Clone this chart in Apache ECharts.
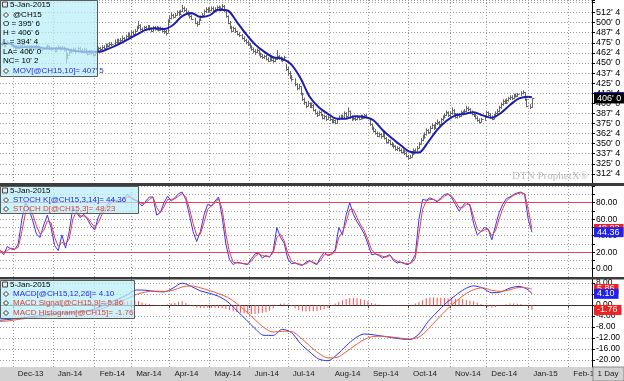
<!DOCTYPE html>
<html><head><meta charset="utf-8">
<script src="https://cdn.jsdelivr.net/npm/echarts@6/dist/echarts.min.js"></script>
<style>html,body{margin:0;padding:0;background:#fff}#c{width:624px;height:381px}</style>
</head><body><div id="c"></div>
<script>
// ---------- DATA ----------
// daily bars, one value per weekday starting Thu 21-Nov-2013 (null = exchange holiday)
const close = [
475,473,471,474,476, null,472,470,468,471, 469,472,474,471,468, 466,468,470,467,469,
471,468,466,467,null, 469,471,468,467,null, 465,468,470,467,469, 466,456,460,463,466,
467,465,null,468,466, 464,467,463,461,464, 462,460,463,466,468, 467,470,469,472,471,
474,473,null,476,478, 476,479,481,478,483, 485,483,488,486,490, 494,497,492,491,494,
492,495,493,490,494, 492,494,491,493,490, 489,487,501,506,509, 507,510,513,511,514,
518,516,513,511,508, 505,null,500,498,503, 507,510,514,517,515, 516,518,515,517,519,
516,518,521,515,508, 500,494,490,493,489, 486,485,null,481,478, 476,474,470,467,465,
463,466,461,459,457, 458,455,453,456,454, 452,455,459,456,455, 454,457,443,437,433,
430,null,424,419,421, 412,405,401,397,400, 396,398,392,388,386, 389,386,382,384,381,
383,380,377,379,376, 380,382,384,382,388, 384,390,383,380,382, 380,383,381,384,382,
385,383,null,374,370, 366,363,360,362,359, 364,357,352,354,350, 348,347,343,345,342,
340,341,338,335,332, 334,337,342,340,345, 350,355,358,362,367, 364,370,373,369,375,
377,374,380,383,386, 389,385,388,392,386, 383,386,384,389,387, 391,394,393,389,387,
385,382,379,377,380, null,383,389,386,383, 381,385,388,391,395, 399,403,401,404,406,
408,406,410,409,411, null,413,414,405,397, null,395.75,406
];
const high = [
477,476,474,476,478, null,475,473,471,472, 472,473,476,475,471, 469,470,472,471,471,
473,472,469,469,null, 471,473,472,470,null, 469,470,472,471,471, 470,467,462,465,468,
469,469,null,470,470, 468,469,468,465,466, 466,464,465,468,470, 470,472,472,474,474,
476,476,null,479,480, 480,481,484,482,485, 488,487,490,490,492, 496,502,498,494,496,
496,497,497,494,496, 496,496,495,495,494, 492,491,504,509,513, 511,512,515,515,516,
522,520,518,515,512, 510,null,506,502,505, 509,512,516,519,519, 519,520,520,519,521,
521,520,523,522,516, 509,502,496,495,494, 490,488,null,486,483, 480,478,475,472,469,
467,468,467,463,461, 460,460,457,458,458, 456,457,466,460,458, 457,459,449,445,440,
435,null,431,425,424, 421,413,407,402,403, 401,401,399,393,390, 391,390,387,386,385,
385,384,381,381,380, 382,385,386,386,390, 389,395,391,385,384, 384,385,384,386,386,
387,387,null,381,375, 371,368,365,364,363, 366,365,358,356,355, 352,350,348,347,346,
344,343,342,340,336, 336,339,344,344,347, 352,357,361,364,369, 368,372,375,374,377,
380,378,382,385,388, 391,390,390,395,393, 388,388,388,391,391, 393,397,396,394,391,
389,387,384,381,382, null,385,391,390,388, 385,387,390,393,397, 401,405,405,406,408,
410,410,412,412,413, null,415,416,414,406, null,399,406.75
];
const low = [
472,471,469,470,473, null,470,468,466,467, 467,468,471,469,466, 464,465,467,465,466,
468,466,464,465,null, 466,468,466,465,null, 463,464,467,465,466, 464,450,455,459,462,
464,462,null,464,464, 462,463,461,459,460, 460,458,459,462,464, 464,466,467,468,469,
470,471,null,472,474, 474,475,477,476,477, 481,480,482,484,485, 489,492,490,488,490,
490,491,490,488,489, 490,490,489,490,488, 486,484,488,500,504, 505,506,509,508,510,
513,513,510,508,505, 503,null,498,495,497, 502,506,509,512,512, 513,514,513,513,515,
514,514,516,513,506, 498,492,488,489,487, 484,482,null,479,476, 473,471,468,465,462,
460,462,459,456,455, 455,453,451,452,452, 450,451,454,454,452, 451,453,440,434,430,
427,null,421,416,417, 410,403,398,394,396, 394,394,390,386,383, 385,384,380,380,378,
380,378,375,376,374, 375,379,380,380,381, 382,384,381,378,379, 378,379,379,380,380,
381,381,null,372,367, 364,361,358,358,356, 358,355,350,350,348, 346,344,341,341,340,
338,338,336,333,330, 331,333,336,338,339, 344,349,353,356,360, 362,363,368,367,368,
373,372,373,378,381, 384,383,383,386,384, 381,381,382,383,385, 386,389,390,387,385,
383,380,377,375,376, null,378,382,384,381, 379,380,383,386,389, 393,397,399,399,402,
404,404,405,407,408, null,409,411,403,395, null,393,394.5
];
const lastOpen = 395.75;
// 10-day moving average, one value every 5th weekday (last value = 5-Jan-2015)
const ma10 = [
473,474,469,470,470,468,468,468,465,464, 464,464,468,473,479,485,491,493,492,497,
508,512,507,509,516,515,501,486,473,464, 457,455,448,431,408,395,387,381,381,384,
383,379,367,357,348,340,339,352,367,378, 385,387,389,385,382,388,398,406,408,407.625
];
// Slow stochastic, one value every 2nd weekday
const stochK = [
23,17,27,24,23,30,60,80,72,58, 42,38,53,65,50,28,22,41,25,45, 74,68,62,66,60,52,47,63,70,75,
80,85,82,80,86,90,85,83,81,76, 82,87,87,65,68,80,88,82,86,91, 93,84,65,45,33,45,65,78,76,82,
87,62,30,11,5,8,7,6,5,12, 18,19,13,16,14,22,50,38,31,12, 6,7,5,4,8,10,7,5,14,20,
16,18,23,50,41,65,80,66,57,50, 42,30,17,18,16,13,15,17,10,7, 8,6,5,9,17,60,84,83,86,84,
81,86,90,91,86,78,70,76,81,76, 55,41,45,50,48,35,52,68,78,85, 87,90,92,93,90,60,44.36
];
const stochD = [
22,20,22,25,24,26,45,68,75,66, 52,42,46,58,56,38,27,32,30,36, 60,70,64,64,62,56,50,56,66,72,
77,82,83,81,84,87,87,84,82,79, 80,84,87,74,68,75,84,84,85,88, 91,87,73,55,40,42,56,72,76,80,
85,72,42,20,8,7,7,6,6,9, 15,18,16,15,15,19,38,42,34,19, 9,7,6,5,6,9,8,6,10,17,
17,17,21,38,44,56,72,72,62,53, 46,35,23,18,17,15,14,16,12,9, 8,7,6,7,13,42,72,82,84,84,
82,84,88,90,88,82,74,74,78,78, 63,48,45,47,48,40,46,60,73,82, 86,89,91,92,91,72,48.23
];
const stochLevels = [80, 20];
// MACD (12,26) and signal (9), one value every 5th weekday
const macd = [
-5.5,-5.2,-4.8,-4.4,-4,-3.5,-3,-2.8,-2.6,-2.3, -1.8,-0.6,1,2.2,3.8,5.5,5.4,5,4.8,6.2,
8,6.8,5.2,4.3,3.2,1.2,-2,-5.2,-8.5,-11, -11,-8.8,-10,-14,-17,-19.6,-20.2,-18,-14.8,-12,
-10.5,-10.8,-11.3,-11.8,-12.3,-12.5,-10.5,-6,-2.5,0.8, 3.5,5.8,7,6.2,4.5,4.8,6.2,6.8,5.6,4.10
];
const signal = [
-6,-5.7,-5.2,-4.8,-4.4,-4,-3.5,-3.1,-2.9,-2.6, -2.2,-1.5,-0.3,1,2.4,3.9,4.8,5.1,5,5.4,
6.6,7,6.3,5.3,4.2,2.8,0.6,-2.2,-5.3,-8.2, -9.8,-9.5,-9.6,-11.8,-14.8,-17.5,-19.2,-19,-17,-14.6,
-12.5,-11.4,-11.3,-11.6,-12,-12.3,-11.6,-8.8,-5.2,-1.8, 1.2,3.8,5.6,6.3,5.4,5,5.6,6.4,6.2,5.86
];
// MACD histogram, one value every 2nd weekday
const hist = [
0.5,0.5,0.5,0.5,0.4,0.4,0.5,0.4,0.4,0.3, 0.4,0.4,0.5,0.5,0.5,0.5,0.4,0.3,0.1,0.3,
0.3,0.3,0.3,0.3,0.3,0.4,0.5,0.8,1,1.2, 1.3,1.3,1.2,1.2,1.3,1.4,1.5,1.6,1.5,1,
0.6,0.4,0.1,-0.2,-0.3,-0.2,0.2,0.6,0.9,1.2, 1.4,0.8,0.1,-0.5,-0.9,-1.1,-1,-0.9,-1,-1,
-1,-1.1,-1.4,-1.8,-2.2,-2.6,-2.8,-3,-3.1,-3.2, -3.2,-3,-2.9,-2.6,-2,-1.2,-0.2,0.5,0.6,0.2,
-0.4,-1.1,-1.8,-2.2,-2.3,-2.2,-2.2,-2.1,-1.8,-1.4, -1,-0.2,0.6,1.2,1.8,2.2,2.6,2.6,2.5,2.2,
2,1.4,0.8,0.5,0.2,0,-0.1,-0.2,-0.2,-0.3, -0.3,-0.3,-0.2,0.1,0.6,1.1,1.8,2.5,2.8,2.8,
2.7,2.7,2.6,2.5,2.4,2.3,2.2,2.1,1.9,1.6, 1.4,0.9,0.3,-0.2,-0.6,-0.9,-0.7,-0.4,-0.1,0.3,
0.6,0.6,0.5,0.4,0.1,-0.6,-1.76
];
const macdTicks = [-20,-16,-12,-8,-4,0,4,8];
const MONTHS = ['Jan','Feb','Mar','Apr','May','Jun','Jul','Aug','Sep','Oct','Nov','Dec'];

// ---------- categories: weekdays from 21-Nov-2013 ----------
const cats = [];
for (let t = Date.UTC(2013,10,21); cats.length < 326; t += 86400000) {
  const wd = new Date(t).getUTCDay();
  if (wd !== 0 && wd !== 6) cats.push(new Date(t).toISOString().slice(0,10));
}
const lastIdx = close.length - 1;
const monthStart = (i) => i > 0 && cats[i].slice(5,7) !== cats[i-1].slice(5,7);
function fmt8(v){ const w = Math.floor(v + 1e-9); return w + "' " + Math.round((v - w) * 8); }
const FONT = "'Liberation Sans', Arial, sans-serif";
const GRID = {color:'#9a9a9a', type:[1,2], width:1};

const bars = [];
close.forEach((c, i) => { if (c != null) bars.push([i, high[i], low[i], c]); });
const step = (arr, s) => arr.map((v, k) => [Math.min(k * s, lastIdx), v]);

function xAxisCfg(g, show) {
  return {
    type:'category', gridIndex:g, data:cats, boundaryGap:false,
    axisLine:{show:show, lineStyle:{color:'#333'}},
    axisTick:{show:show, interval:(i)=>monthStart(i), length:3, lineStyle:{color:'#444'}},
    axisLabel:{show:show, interval:(i)=>monthStart(i), hideOverlap:false,
      formatter:(v)=>MONTHS[+v.slice(5,7)-1] + '-' + v.slice(2,4),
      align:'left', padding:[0,0,0,5], fontSize:8, color:'#222', margin:3, fontFamily:FONT},
    splitLine:{show:true, interval:(i)=>monthStart(i), lineStyle:GRID}
  };
}
function yAxisBase(g) {
  return {
    type:'value', gridIndex:g, position:'right', scale:false,
    axisLine:{show:true, lineStyle:{color:'#000'}},
    axisTick:{show:true, length:3, lineStyle:{color:'#000'}},
    splitLine:{show:true, lineStyle:GRID}
  };
}
function tagLine(items) {
  return {
    silent:true, symbol:['none','none'], animation:false,
    lineStyle:{color:'rgba(0,0,0,0)', width:0, opacity:1},
    label:{show:true, position:'end', distance:2, color:'#fff', fontSize:9, fontFamily:FONT, padding:[1,4,0,3]},
    data: items.map(it => ({yAxis: it[0], label:{formatter: it[1], backgroundColor: it[2]}}))
  };
}

// ---------- legend boxes (graphic) ----------
const BLUE_T = '#2a2ae0', RED_T = '#e0403a';
function legend(x, y, w, h, lines) {
  const els = [{type:'rect', shape:{x:x+0.5, y:y+0.5, width:w, height:h}, style:{fill:'rgba(185,238,248,0.72)', stroke:'#5a5a5a', lineWidth:1}, z:100}];
  lines.forEach(L => {
    if (L.icon) els.push({type:'rect', shape:{x:2.5, y:L.y-3, width:5, height:5}, style:{fill:'#e8e8e8', stroke:'#444', lineWidth:1}, z:101});
    if (L.bullet) els.push({type:'polygon', shape:{points:[[6,L.y-2.5],[8.5,L.y],[6,L.y+2.5],[3.5,L.y]]}, style:{fill:'#fff', stroke:'#333', lineWidth:1}, z:101});
    els.push({type:'text', x:L.x, y:L.y, style:{text:L.t, fill:L.c || '#000', font:'8px ' + FONT, verticalAlign:'middle', textVerticalAlign:'middle'}, z:101});
  });
  return els;
}
const K_last = stochK[stochK.length-1], D_last = stochD[stochD.length-1];
const M_last = macd[macd.length-1], S_last = signal[signal.length-1], H_last = hist[hist.length-1];
const graphics = [].concat(
  legend(0, 0, 97, 76, [
    {t:'5-Jan-2015', x:10, y:5, icon:true},
    {t:'@CH15', x:13, y:15, bullet:true},
    {t:'O = ' + fmt8(lastOpen), x:3, y:24},
    {t:'H = ' + fmt8(high[lastIdx]), x:3, y:33},
    {t:'L = ' + fmt8(low[lastIdx]), x:3, y:42},
    {t:'LA= ' + fmt8(close[lastIdx]), x:3, y:52},
    {t:'NC= ' + fmt8(close[lastIdx] - close[lastIdx-1]), x:3, y:61},
    {t:'MOV[@CH15,10]= ' + fmt8(ma10[ma10.length-1]), x:13, y:71, bullet:true, c:BLUE_T}
  ]),
  legend(0, 186, 138, 27, [
    {t:'5-Jan-2015', x:10, y:191, icon:true},
    {t:'STOCH K[@CH15,3,14]= ' + K_last.toFixed(2), x:13, y:200, bullet:true, c:BLUE_T},
    {t:'STOCH D[@CH15,3]= ' + D_last.toFixed(2), x:13, y:209, bullet:true, c:RED_T}
  ]),
  legend(0, 280, 134, 38, [
    {t:'5-Jan-2015', x:10, y:285, icon:true},
    {t:'MACD[@CH15,12,26]= ' + M_last.toFixed(2), x:13, y:294, bullet:true, c:BLUE_T},
    {t:'MACD Signal[@CH15,9]= ' + S_last.toFixed(2), x:13, y:303, bullet:true, c:RED_T},
    {t:'MACD Histogram[@CH15]= ' + H_last.toFixed(2), x:13, y:313, bullet:true, c:RED_T}
  ]),
  [
    {type:'rect', shape:{x:0, y:183, width:624, height:3}, style:{fill:'#3c3c3c'}, z:90},
    {type:'rect', shape:{x:0, y:277, width:624, height:2.5}, style:{fill:'#3c3c3c'}, z:90},
    {type:'rect', shape:{x:0, y:367, width:624, height:14}, style:{fill:'#d2d2d2'}, z:-5},
    {type:'rect', shape:{x:593, y:367, width:31, height:14}, style:{fill:'#d2d2d2', stroke:'#8a8a8a', lineWidth:1}, z:100},
    {type:'text', x:608, y:374, style:{text:'1 Day', fill:'#222', font:'8px ' + FONT, align:'center', verticalAlign:'middle', textAlign:'center', textVerticalAlign:'middle'}, z:101},
    {type:'text', x:588, y:176, style:{text:'DTN ProphetX\u00AE', fill:'#bdbdbd', font:'11px "Liberation Serif", serif', align:'right', verticalAlign:'middle', textAlign:'right', textVerticalAlign:'middle'}, z:5}
  ]
);

const option = {
  animation:false,
  textStyle:{fontFamily:FONT},
  grid:[
    {left:0, right:32, top:0, height:184},
    {left:0, right:32, top:186, height:91},
    {left:0, right:32, top:279, height:88}
  ],
  xAxis:[xAxisCfg(0,false), xAxisCfg(1,false), xAxisCfg(2,true)],
  yAxis:[
    Object.assign(yAxisBase(0), {min:300, max:528, interval:12.5,
      axisLabel:{fontSize:9, color:'#000', margin:4, fontFamily:FONT, formatter:(v)=> (v < 312 || v > 513) ? '' : fmt8(v)}}),
    Object.assign(yAxisBase(1), {min:-10, max:100.3, interval:10,
      axisLabel:{fontSize:8.5, color:'#000', margin:4, fontFamily:FONT, formatter:(v)=> (v >= 0 && v <= 80 && Math.round(v) % 20 === 0) ? v.toFixed(2) : ''}}),
    Object.assign(yAxisBase(2), {min:-22.5, max:9.5,
      axisTick:{show:true, length:3, customValues:macdTicks, lineStyle:{color:'#000'}},
      axisLabel:{fontSize:8.5, color:'#000', margin:4, fontFamily:FONT, customValues:macdTicks, formatter:(v)=> v.toFixed(2)}})
  ],
  series:[
    {type:'custom', xAxisIndex:0, yAxisIndex:0, data:bars, clip:true, z:2,
      encode:{x:0, y:[1,2,3]},
      renderItem:(params, api) => {
        const i = api.value(0);
        const pH = api.coord([i, api.value(1)]);
        const pL = api.coord([i, api.value(2)]);
        const pC = api.coord([i, api.value(3)]);
        const x = Math.round(pH[0]) + 0.5;
        const yc = Math.round(pC[1]) + 0.5;
        return {type:'group', children:[
          {type:'line', shape:{x1:x, y1:pH[1], x2:x, y2:pL[1]}, style:{stroke:'#666', lineWidth:1}},
          {type:'line', shape:{x1:x, y1:yc, x2:x+2, y2:yc}, style:{stroke:'#666', lineWidth:1}}
        ]};
      }},
    {type:'line', xAxisIndex:0, yAxisIndex:0, data:step(ma10,5), showSymbol:false, smooth:0.3, z:3, clip:false,
      lineStyle:{color:'#1c1cb4', width:2},
      markLine: tagLine([[ma10[ma10.length-1], fmt8(ma10[ma10.length-1]), '#00007a'], [close[lastIdx], fmt8(close[lastIdx]), '#000']])},
    {type:'line', xAxisIndex:1, yAxisIndex:1, data:step(stochK,2), showSymbol:false, z:3,
      lineStyle:{color:'#3535ff', width:1},
      markLine:{silent:true, symbol:['none','none'], animation:false, label:{show:false},
        lineStyle:{color:'#e8405a', type:'solid', width:1}, data: stochLevels.map(v => ({yAxis:v}))}},
    {type:'line', xAxisIndex:1, yAxisIndex:1, data:step(stochD,2), showSymbol:false, z:3, clip:false,
      lineStyle:{color:'#ee3a3a', width:1},
      markLine: tagLine([[D_last, D_last.toFixed(2), '#ee2222'], [K_last, K_last.toFixed(2), '#2020f0']])},
    {type:'bar', xAxisIndex:2, yAxisIndex:2, data:step(hist,2), barWidth:1, z:2,
      itemStyle:{color:'#ff4a4a'}},
    {type:'line', xAxisIndex:2, yAxisIndex:2, data:step(macd,5), showSymbol:false, smooth:0.3, z:3,
      lineStyle:{color:'#3030e8', width:1}},
    {type:'line', xAxisIndex:2, yAxisIndex:2, data:step(signal,5), showSymbol:false, smooth:0.3, z:3, clip:false,
      lineStyle:{color:'#e85a3a', width:1},
      markLine: tagLine([[S_last, S_last.toFixed(2), '#ee2222'], [H_last, H_last.toFixed(2), '#ee2222'], [M_last, M_last.toFixed(2), '#2020f0']])}
  ],
  graphic: graphics
};
const chart = echarts.init(document.getElementById('c'), null, {renderer:'canvas'});
chart.setOption(option);
</script></body></html>
